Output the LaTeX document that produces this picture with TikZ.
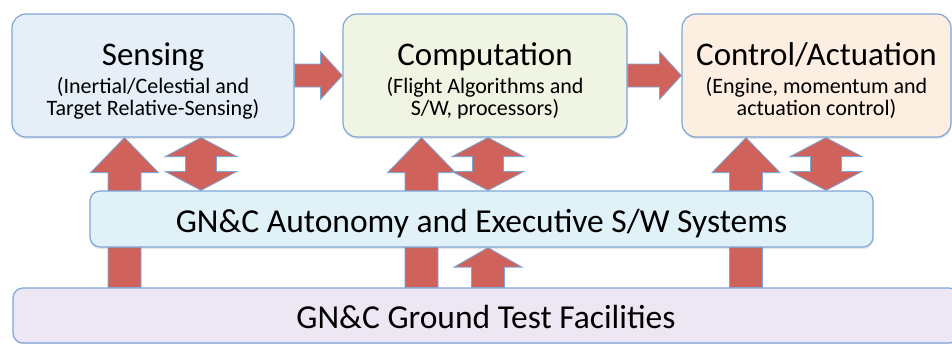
\documentclass[tikz,border=0pt]{standalone}
\usepackage{fontspec}
\setmainfont{Carlito}
\usetikzlibrary{calc,backgrounds,shadows}
\definecolor{edge}{HTML}{7EA6D8}
\definecolor{brick}{HTML}{CF635B}
\definecolor{senseblue}{HTML}{E6EEF8}
\definecolor{compgreen}{HTML}{F0F4E2}
\definecolor{ctrlpeach}{HTML}{FDEEE2}
\definecolor{autocyan}{HTML}{E0F2F8}
\definecolor{groundlilac}{HTML}{EDE6F3}

\newcommand\boxhead[1]{{\fontsize{33}{33}\selectfont\rule{0pt}{33pt}#1}}
% fat block arrows, drawn between two points
\newcommand\blkup[3][35pt]{%
  \draw[blk] let \p1=(#2), \p2=(#3) in
    (\x2,\y2) -- (\x2+34pt,\y2-#1) -- (\x2+16.5pt,\y2-#1) -- (\x1+16.5pt,\y1)
    -- (\x1-16.5pt,\y1) -- (\x2-16.5pt,\y2-#1) -- (\x2-34pt,\y2-#1) -- cycle;}
\newcommand\blkdbl[2]{%
  \draw[blk] let \p1=(#1), \p2=(#2) in
    (\x1,\y1) -- (\x1+36pt,\y1-19pt) -- (\x1+15.5pt,\y1-19pt) -- (\x2+15.5pt,\y2+19pt)
    -- (\x2+36pt,\y2+19pt) -- (\x2,\y2) -- (\x2-36pt,\y2+19pt) -- (\x2-15.5pt,\y2+19pt)
    -- (\x1-15.5pt,\y1-19pt) -- (\x1-36pt,\y1-19pt) -- cycle;}
\newcommand\blkright[2]{%
  \draw[blk] let \p1=(#1), \p2=(#2) in
    (\x1,\y1+11.5pt) -- (\x2-22pt,\y2+11.5pt) -- (\x2-22pt,\y2+24pt) -- (\x2,\y2)
    -- (\x2-22pt,\y2-24pt) -- (\x2-22pt,\y2-11.5pt) -- (\x1,\y1-11.5pt) -- cycle;}

\begin{document}
\begin{tikzpicture}[x=1pt,y=-1pt,
  box/.style={draw=edge,line width=1.2pt,rounded corners=14pt,inner sep=0pt,align=center,
    font={\fontsize{22}{21.5}\selectfont\lineskiplimit=-40pt},
    drop shadow={opacity=.2,shadow xshift=.5pt,shadow yshift=-2pt}},
  bar/.style={box,rounded corners=10pt,font={\fontsize{33.5}{33.5}\selectfont},
    text height=26pt,text depth=0pt},
  blk/.style={fill=brick,draw=edge,line width=.8pt,line join=miter}]
\useasboundingbox (0,0) rectangle (952,343);
\clip (0,0) rectangle (952,343);

% three stages on top
\node[box,fill=senseblue,minimum width=282,minimum height=123] (sense) at (153,75.5)
  {\boxhead{Sensing}\\[7pt](Inertial/Celestial and\\Target Relative-Sensing)};
\node[box,fill=compgreen,minimum width=284,minimum height=123] (comp) at (485,75.5)
  {\boxhead{Computation}\\[7pt](Flight Algorithms and\\S/W, processors)};
\node[box,fill=ctrlpeach,minimum width=269,minimum height=123] (ctrl) at (816.5,75.5)
  {\boxhead{Control/Actuation}\\[7pt](Engine, momentum and\\actuation control)};

% the two bars underneath
\node[bar,fill=autocyan,minimum width=783,minimum height=56] (auto) at (481.5,219)
  {GN\&C Autonomy and Executive S/W Systems};
\node[bar,fill=groundlilac,minimum width=946,minimum height=55] (ground) at (486,315.5)
  {GN\&C Ground Test Facilities};

\coordinate (upS) at (124.5,0);
\coordinate (dblS) at (201,0);
\coordinate (upC) at (421.5,0);
\coordinate (dblC) at (488,0);
\coordinate (upA) at (746,0);
\coordinate (dblA) at (826,0);

\begin{pgfonlayer}{background}
\blkright{sense.east}{comp.west}
\blkright{comp.east}{ctrl.west}
\foreach \ucol/\dcol/\stage in {upS/dblS/sense,upC/dblC/comp,upA/dblA/ctrl}{
  \blkup{ground.north -| \ucol}{\stage.south -| \ucol}
  \blkdbl{\stage.south -| \dcol}{auto.north -| \dcol}
}
\blkup[19.5pt]{ground.north -| dblC}{auto.south -| dblC}
\end{pgfonlayer}
\end{tikzpicture}
\end{document}
